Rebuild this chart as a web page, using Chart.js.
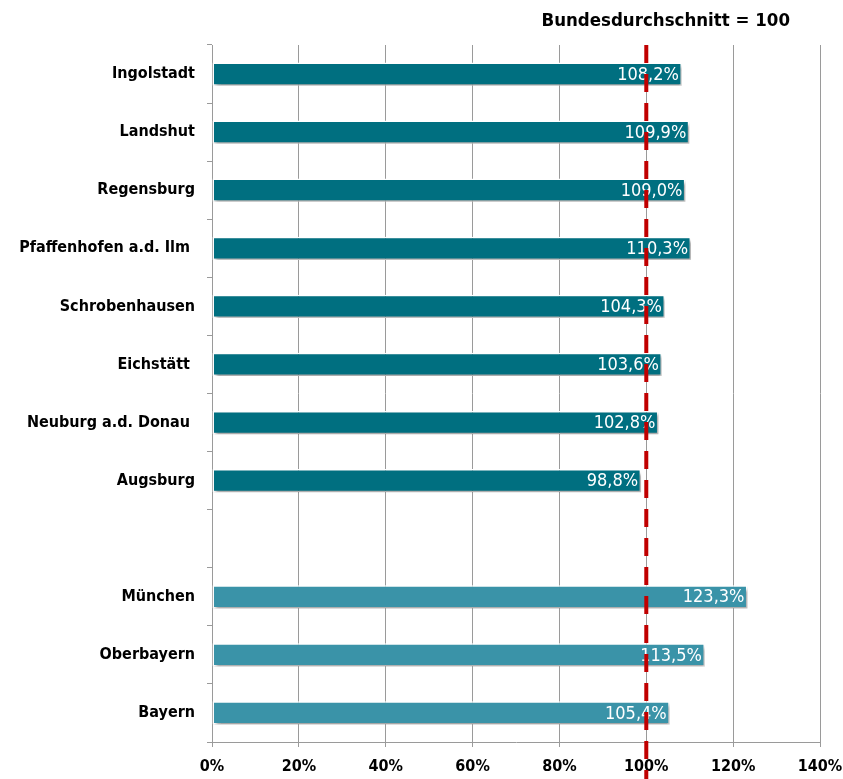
<!DOCTYPE html>
<html lang="de">
<head>
  <meta charset="UTF-8">
  <title>Kaufkraft Region</title>
  <script src="https://cdn.jsdelivr.net/npm/chart.js"></script>
  <style>
    body {
      margin: 0;
      background: #ffffff;
    }
    #wrap {
      width: 843px;
      height: 779px;
      position: relative;
    }
  </style>
</head>
<body>
  <div id="wrap">
    <canvas id="chart"></canvas>
  </div>

  <script>
    const regions = ['Ingolstadt', 'Landshut', 'Regensburg', 'Pfaffenhofen a.d. Ilm ', 'Schrobenhausen',
      'Eichstätt ', 'Neuburg a.d. Donau ', 'Augsburg', '', 'München', 'Oberbayern', 'Bayern'];
    const values = [108.2, 109.9, 109.0, 110.3, 104.3, 103.6, 102.8, 98.8, null, 123.3, 113.5, 105.4];
    const barColors = ['#006f80', '#006f80', '#006f80', '#006f80', '#006f80', '#006f80', '#006f80', '#006f80',
      '#006f80', '#3a93a8', '#3a93a8', '#3a93a8'];
    const xTicks = [0, 20, 40, 60, 80, 100, 120, 140];
    const reference = 100;
    const titleText = 'Bundesdurchschnitt = 100';

    const FONT = "'DejaVu Sans Condensed', 'Liberation Sans Narrow', 'Open Sans', sans-serif";

    function fmt(v) {
      return v.toFixed(1).replace('.', ',') + '%';
    }

    // shadow under the bars
    const shadowPlugin = {
      id: 'shadow',
      beforeDatasetDraw(chart) {
        const ctx = chart.ctx;
        ctx.save();
        ctx.shadowColor = 'rgba(0,0,0,0.35)';
        ctx.shadowBlur = 3;
        ctx.shadowOffsetX = 2;
        ctx.shadowOffsetY = 3;
      },
      afterDatasetDraw(chart) {
        chart.ctx.restore();
      }
    };

    // value labels inside the bars, then the dashed 100 line and the title
    const overlayPlugin = {
      id: 'overlay',
      afterDatasetsDraw(chart) {
        const ctx = chart.ctx;
        const meta = chart.getDatasetMeta(0);
        ctx.save();
        ctx.font = '18px ' + FONT;
        ctx.fillStyle = '#ffffff';
        ctx.textAlign = 'right';
        ctx.textBaseline = 'middle';
        meta.data.forEach((bar, i) => {
          if (values[i] == null) return;
          ctx.fillText(fmt(values[i]), bar.x - 3, bar.y + 1);
        });
        ctx.restore();
      },
      afterDraw(chart) {
        const ctx = chart.ctx;
        const area = chart.chartArea;
        const x = chart.scales.x.getPixelForValue(reference);
        ctx.save();
        ctx.strokeStyle = '#c00000';
        ctx.lineWidth = 4;
        ctx.setLineDash([18, 11]);
        ctx.beginPath();
        ctx.moveTo(x, area.top);
        ctx.lineTo(x, chart.height);
        ctx.stroke();
        ctx.setLineDash([]);
        ctx.font = 'bold 18.5px ' + FONT;
        ctx.fillStyle = '#000000';
        ctx.textAlign = 'right';
        ctx.textBaseline = 'middle';
        ctx.fillText(titleText, area.right - 30, 21);
        ctx.restore();
      }
    };

    new Chart(document.getElementById('chart'), {
      type: 'bar',
      data: {
        labels: regions,
        datasets: [{
          data: values,
          backgroundColor: barColors,
          borderColor: '#ffffff',
          borderWidth: 1.5,
          borderSkipped: false,
          barPercentage: 0.4,
          categoryPercentage: 1.0
        }]
      },
      options: {
        indexAxis: 'y',
        responsive: true,
        maintainAspectRatio: false,
        animation: false,
        layout: {
          padding: { top: 45, right: 23, left: 0, bottom: 0 }
        },
        plugins: {
          legend: { display: false },
          tooltip: { enabled: false }
        },
        scales: {
          x: {
            min: 0,
            max: 140,
            afterBuildTicks(scale) {
              scale.ticks = xTicks.map(v => ({ value: v }));
            },
            afterFit(scale) {
              scale.height = 37;
              scale.paddingLeft = 0;
              scale.paddingRight = 0;
            },
            grid: {
              color: '#9a9a9a',
              lineWidth: 1,
              drawTicks: true,
              tickLength: 5
            },
            border: { color: '#9a9a9a' },
            ticks: {
              color: '#000000',
              padding: 10,
              font: { family: FONT, size: 16, weight: 'bold' },
              callback: v => v + '%'
            }
          },
          y: {
            afterFit(scale) {
              scale.width = 212;
            },
            grid: {
              drawOnChartArea: false,
              drawTicks: true,
              tickLength: 5,
              color: '#9a9a9a'
            },
            border: { color: '#9a9a9a' },
            ticks: {
              color: '#000000',
              padding: 12,
              font: { family: FONT, size: 16, weight: 'bold' }
            }
          }
        }
      },
      plugins: [shadowPlugin, overlayPlugin]
    });
  </script>
</body>
</html>
